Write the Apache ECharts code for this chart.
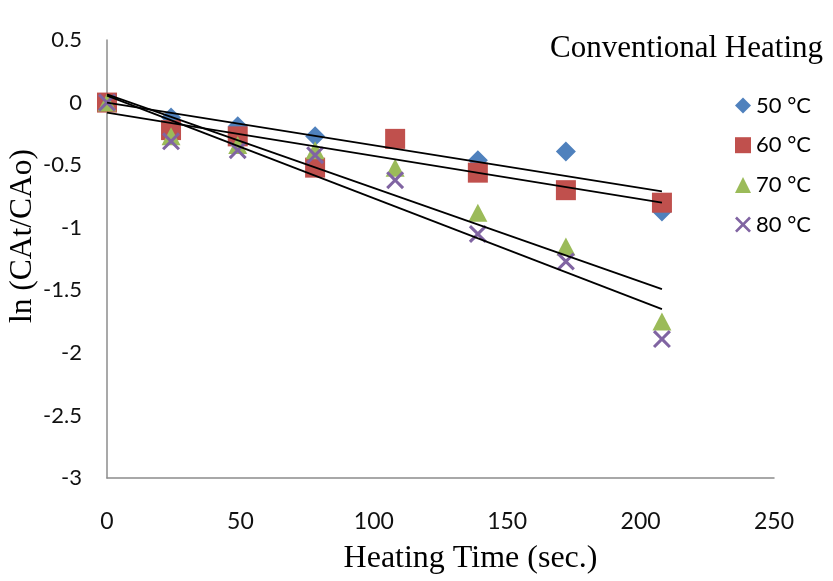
<!DOCTYPE html>
<html>
<head>
<meta charset="utf-8">
<script src="https://cdn.jsdelivr.net/npm/echarts@6/dist/echarts.min.js"></script>
<style>html,body{margin:0;padding:0;background:#fff;}#c{width:833px;height:581px;}</style>
</head>
<body>
<div id="c"></div>
<script>
const times = [0, 24, 49, 78, 108, 139, 172, 208];
const times50 = [0, 24, 49, 78, 139, 172, 208];
const s50 = [0, -0.12, -0.19, -0.27, -0.46, -0.39, -0.87];
const s60 = [0, -0.22, -0.27, -0.52, -0.29, -0.56, -0.70, -0.80];
const s70 = [0, -0.27, -0.34, -0.38, -0.52, -0.88, -1.15, -1.75];
const s80 = [0, -0.31, -0.38, -0.42, -0.62, -1.05, -1.27, -1.89];
const trendX = [0, 208];
const trend50 = [0.00, -0.71];
const trend60 = [-0.08, -0.80];
const trend70 = [0.065, -1.49];
const trend80 = [0.055, -1.65];
const seriesNames = ['50 °C', '60 °C', '70 °C', '80 °C'];
const yTicks = [0.5, 0, -0.5, -1, -1.5, -2, -2.5, -3];
const xTicks = [0, 50, 100, 150, 200, 250];

const pair = (xs, ys) => xs.map((x, i) => [x, ys[i]]);
const crossPath = 'path://M0,1.2L1.2,0L5,3.8L8.8,0L10,1.2L6.2,5L10,8.8L8.8,10L5,6.2L1.2,10L0,8.8L3.8,5Z';
const colors = ['#4F81BD', '#C0504D', '#9BBB59', '#8064A2'];

const chart = echarts.init(document.getElementById('c'));
const trendSeries = (d) => ({
  type: 'line', data: pair(trendX, d), showSymbol: false, symbol: 'none',
  lineStyle: {color: '#000', width: 1.8}, z: 5, silent: true
});
chart.setOption({
  animation: false,
  backgroundColor: '#fff',
  textStyle: {fontFamily: 'Lato'},
  title: {
    text: 'Conventional Heating', right: 5, top: 28,
    textStyle: {fontFamily: 'Liberation Serif', fontSize: 31, fontWeight: 'normal', color: '#000'}
  },
  legend: {
    data: seriesNames.map((n, i) => ({name: n, icon: ['diamond', 'rect', 'triangle', crossPath][i]})),
    orient: 'vertical', left: 730, top: 89,
    itemWidth: 16, itemHeight: 16, itemGap: 16.7,
    textStyle: {fontFamily: 'Lato', fontSize: 22, color: '#000', lineHeight: 23}
  },
  grid: {left: 107, right: 59, top: 40, bottom: 103, containLabel: false, outerBoundsMode: 'none'},
  xAxis: {
    type: 'value', min: 0, max: 250, interval: 50,
    name: 'Heating Time (sec.)', nameLocation: 'middle', nameGap: 65, nameMoveOverlap: false,
    nameTextStyle: {fontFamily: 'Liberation Serif', fontSize: 32, color: '#000', padding: [0, 0, 0, 60]},
    axisLine: {show: true, onZero: false, lineStyle: {color: '#8c8c8c', width: 1.5}},
    axisTick: {show: false}, splitLine: {show: false},
    axisLabel: {fontFamily: 'Lato', fontSize: 23, color: '#111', margin: 32}
  },
  yAxis: {
    type: 'value', min: -3, max: 0.5, interval: 0.5,
    name: 'ln (CAt/CAo)', nameLocation: 'middle', nameGap: 68, nameMoveOverlap: false,
    nameTextStyle: {fontFamily: 'Liberation Serif', fontSize: 31.5, color: '#000', padding: [0, 0, 0, 46]},
    axisLine: {show: true, onZero: false, lineStyle: {color: '#8c8c8c', width: 1.5}},
    axisTick: {show: false}, splitLine: {show: false},
    axisLabel: {fontFamily: 'Lato', fontSize: 22, color: '#111', margin: 25}
  },
  series: [
    {name: seriesNames[0], type: 'scatter', data: pair(times50, s50), symbol: 'diamond', symbolSize: [20, 20], itemStyle: {color: colors[0], opacity: 1}, z: 2},
    {name: seriesNames[1], type: 'scatter', data: pair(times, s60), symbol: 'rect', symbolSize: 20, itemStyle: {color: colors[1], opacity: 1}, z: 2},
    {name: seriesNames[2], type: 'scatter', data: pair(times, s70), symbol: 'triangle', symbolSize: [19, 18], itemStyle: {color: colors[2], opacity: 1}, z: 2},
    {name: seriesNames[3], type: 'scatter', data: pair(times, s80), symbol: crossPath, symbolSize: 18, itemStyle: {color: colors[3], opacity: 1}, z: 2},
    trendSeries(trend50), trendSeries(trend60), trendSeries(trend70), trendSeries(trend80)
  ]
});
</script>
</body>
</html>
